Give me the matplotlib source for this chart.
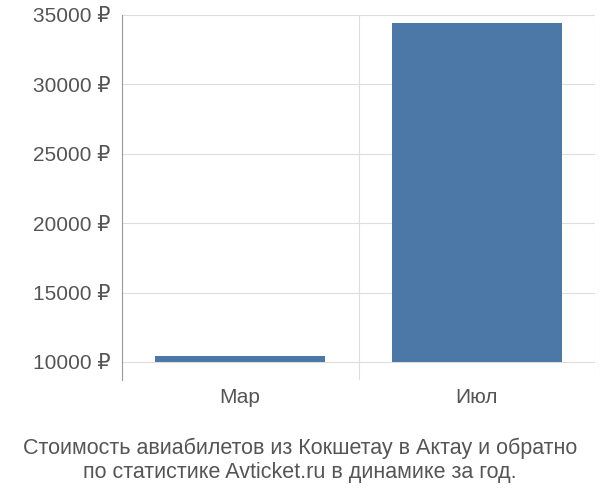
import matplotlib
matplotlib.use("Agg")
import matplotlib.pyplot as plt

plt.rcParams['font.family'] = ['Liberation Sans', 'DejaVu Sans']

months = ["Мар", "Июл"]
prices = [10400, 34450]
yticks = [10000, 15000, 20000, 25000, 30000, 35000]
caption = "Стоимость авиабилетов из Кокшетау в Актау и обратно\nпо статистике Avticket.ru в динамике за год."

fig = plt.figure(figsize=(6, 5), dpi=100)
ax = fig.add_axes([0.203, 0.24, 0.789, 0.73])

pos = [0.5, 1.5]
ax.bar(pos, [p - 10000 for p in prices], bottom=10000, width=0.72, color="#4c78a8", zorder=3)

ax.set_xlim(0, 2)
ax.set_ylim(8700, 35000)
ax.set_yticks(yticks)
ax.set_yticklabels([f"{v} ₽" for v in yticks], fontsize=15, color="#555555")
ax.set_xticks(pos)
ax.set_xticklabels(months, fontsize=15, color="#555555")
for v in yticks:
    ax.axhline(v, color="#dddddd", lw=0.8, zorder=1)
for x in [1, 2]:
    ax.axvline(x, color="#dddddd", lw=0.8, zorder=1)
ax.tick_params(axis="y", length=0, pad=8)
ax.tick_params(axis="x", length=0, pad=6)
for s in ["top", "right", "bottom"]:
    ax.spines[s].set_visible(False)
ax.spines["left"].set_color("#999999")

fig.text(0.5, 0.08, caption, ha="center", va="center", fontsize=15.5,
         color="#555555", linespacing=1.2)
fig.savefig("out.png", dpi=100)
